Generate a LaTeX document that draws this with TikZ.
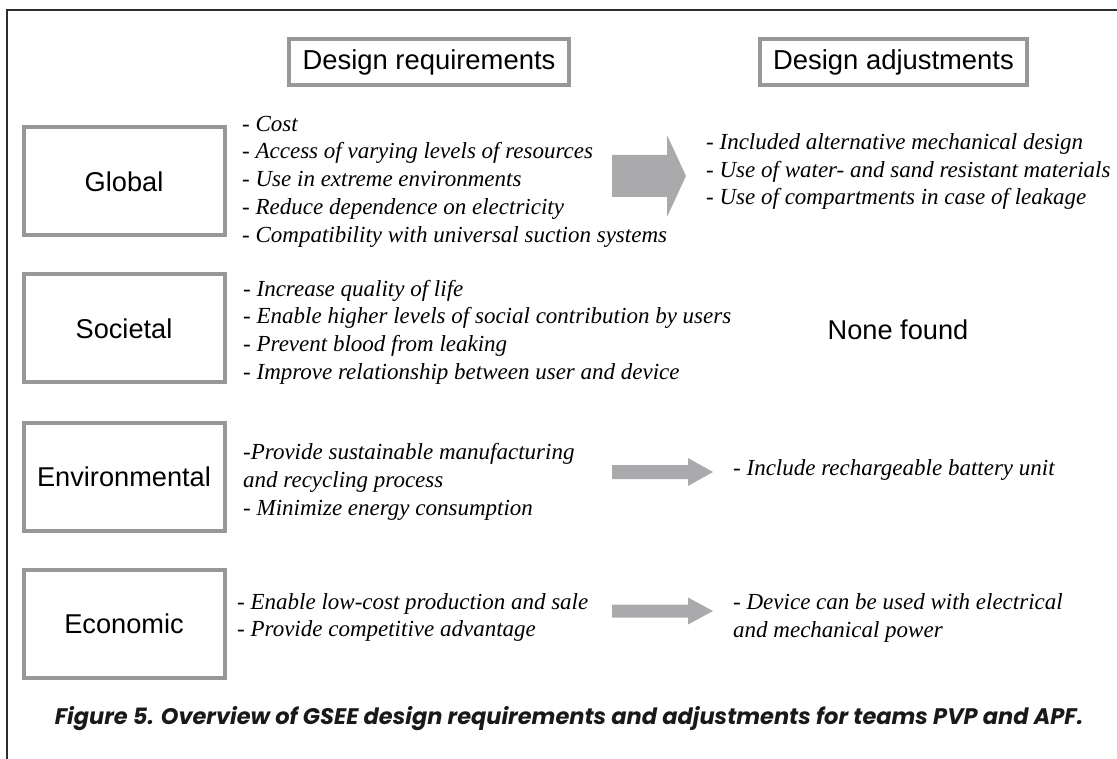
\documentclass[tikz,border=0pt]{standalone}
\usepackage{fontspec}
\setmainfont{Liberation Serif}
\setsansfont{Liberation Sans}
\newfontfamily\capfont{Poppins}
\usetikzlibrary{calc}

\definecolor{boxgray}{RGB}{152,152,152}
\definecolor{arrowgray}{RGB}{170,170,172}
\definecolor{framegray}{RGB}{45,45,45}

\tikzset{
  catbox/.style={draw=boxgray, line width=4pt, minimum width=201pt, minimum height=108pt,
    font=\sffamily\fontsize{27.2}{32}\selectfont},
  headbox/.style={draw=boxgray, line width=4pt, minimum height=46pt,
    font=\sffamily\fontsize{27.4}{32}\selectfont},
  itemlist/.style={anchor=west, align=left, inner sep=0pt,
    font=\itshape\fontsize{23}{27.7}\selectfont},
}

% fat gray arrow: x start, head start, tip, mid y, half shaft, half head
\newcommand{\blockarrow}[6]{%
  \fill[arrowgray] (#1,#4-#5) -- (#2,#4-#5) -- (#2,#4-#6) -- (#3,#4)
    -- (#2,#4+#6) -- (#2,#4+#5) -- (#1,#4+#5) -- cycle;}

\begin{document}
\begin{tikzpicture}[x=1pt,y=-1pt]
  \useasboundingbox (0,0) rectangle (1117,759);

  % page frame
  \draw[framegray, line width=1.4pt] (7,759) -- (7,10) -- (1117,10);

  % column headers
  \node[headbox, minimum width=280pt] (req) at (429,62) {Design requirements};
  \node[headbox, minimum width=267pt] (adj) at (893.5,62) {Design adjustments};

  % categories
  \node[catbox] (global)   at (124,181.5) {Global};
  \node[catbox] (societal) at (124,328.5) {Societal};
  \node[catbox] (environ)  at (124,476.5) {Environmental};
  \node[catbox] (economic) at (124,624)   {Economic};

  % requirements
  \node[itemlist] (globreq) at (242,181.5) {- Cost\\- Access of varying levels of resources\\- Use in extreme environments\\- Reduce dependence on electricity\\- Compatibility with universal suction systems};
  \node[itemlist] (socreq) at (243,332) {- Increase quality of life\\- Enable higher levels of social contribution by users\\- Prevent blood from leaking\\- Improve relationship between user and device};
  \node[itemlist] (envreq) at (243,482) {-Provide sustainable manufacturing\\and recycling process\\- Minimize energy consumption};
  \node[itemlist] (ecoreq) at (237,617.5) {- Enable low-cost production and sale\\- Provide competitive advantage};

  % arrows
  \blockarrow{612}{667}{686}{176}{21}{41}
  \blockarrow{612}{688}{713}{472}{7}{14}
  \blockarrow{612}{688}{713}{611}{6.5}{13.5}

  % adjustments
  \node[itemlist] (globadj) at (706,171.5) {- Included alternative mechanical design\\- Use of water- and sand resistant materials\\- Use of compartments in case of leakage};
  \node[font=\sffamily\fontsize{27.2}{32}\selectfont] (socadj) at (898,330) {None found};
  \node[itemlist] (envadj) at (733,470) {- Include rechargeable battery unit};
  \node[itemlist] (ecoadj) at (733,618) {- Device can be used with electrical\\and mechanical power};

  % caption
  \node[font=\capfont\bfseries\itshape\fontsize{22.5}{27}\selectfont, text=black!90] (caption) at (569,719)
    {Figure 5. Overview of GSEE design requirements and adjustments for teams PVP and APF.};
\end{tikzpicture}
\end{document}
